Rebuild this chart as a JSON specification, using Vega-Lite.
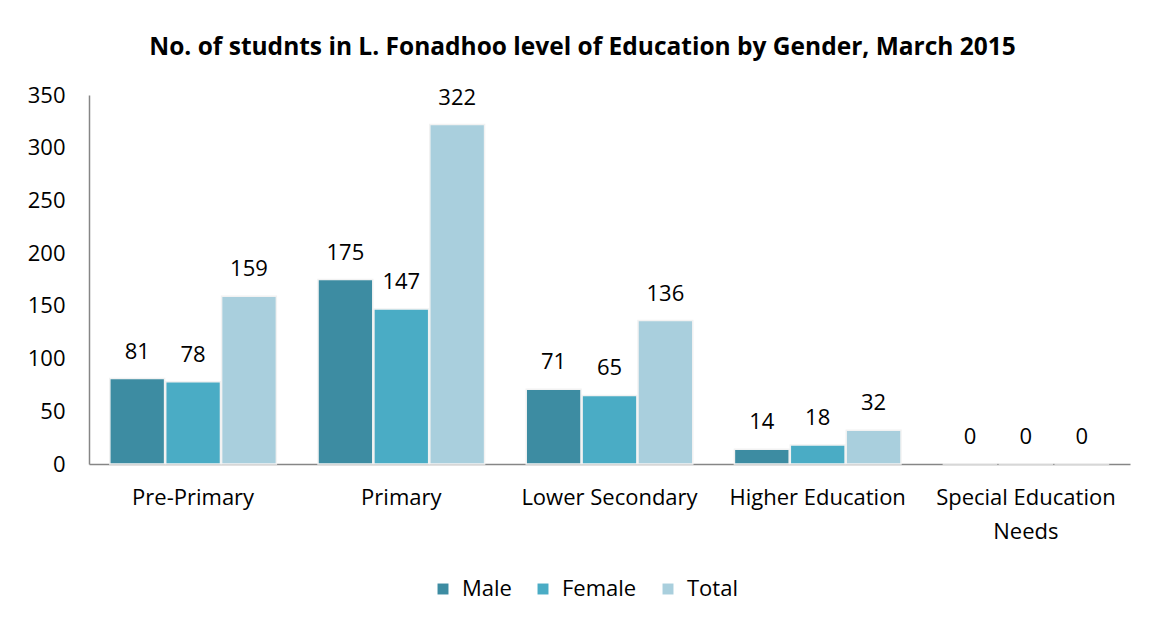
{
  "$schema": "https://vega.github.io/schema/vega-lite/v6.json",
  "width": 1041,
  "height": 369,
  "autosize": {"type": "none"},
  "padding": {"left": 89, "top": 95, "right": 22, "bottom": 161},
  "background": "white",
  "config": {"view": {"stroke": null}, "font": "Open Sans"},
  "title": {
    "text": "No. of studnts in L. Fonadhoo level of Education by Gender, March 2015",
    "fontSize": 24.5,
    "fontWeight": "bold",
    "color": "#000000",
    "anchor": "middle",
    "dx": -27,
    "offset": 24
  },
  "data": {
    "values": [
      {"level": "Pre-Primary", "gender": "Male", "count": 81},
      {"level": "Pre-Primary", "gender": "Female", "count": 78},
      {"level": "Pre-Primary", "gender": "Total", "count": 159},
      {"level": "Primary", "gender": "Male", "count": 175},
      {"level": "Primary", "gender": "Female", "count": 147},
      {"level": "Primary", "gender": "Total", "count": 322},
      {"level": "Lower Secondary", "gender": "Male", "count": 71},
      {"level": "Lower Secondary", "gender": "Female", "count": 65},
      {"level": "Lower Secondary", "gender": "Total", "count": 136},
      {"level": "Higher Education", "gender": "Male", "count": 14},
      {"level": "Higher Education", "gender": "Female", "count": 18},
      {"level": "Higher Education", "gender": "Total", "count": 32},
      {"level": "Special Education Needs", "gender": "Male", "count": 0},
      {"level": "Special Education Needs", "gender": "Female", "count": 0},
      {"level": "Special Education Needs", "gender": "Total", "count": 0}
    ]
  },
  "encoding": {
    "x": {
      "field": "level",
      "type": "nominal",
      "sort": ["Pre-Primary", "Primary", "Lower Secondary", "Higher Education", "Special Education Needs"],
      "scale": {"paddingInner": 0.2, "paddingOuter": 0.1},
      "axis": {
        "title": null,
        "labelAngle": 0,
        "ticks": false,
        "domainColor": "#868686",
        "domainWidth": 1.5,
        "labelFontSize": 22,
        "labelColor": "#000000",
        "labelPadding": 23,
        "labelLineHeight": 34,
        "labelBaseline": "top",
        "labelExpr": "datum.label == 'Special Education Needs' ? ['Special Education', 'Needs'] : datum.label"
      }
    },
    "xOffset": {
      "field": "gender",
      "type": "nominal",
      "sort": ["Male", "Female", "Total"],
      "scale": {"paddingInner": 0.02}
    },
    "y": {
      "field": "count",
      "type": "quantitative",
      "scale": {"domain": [0, 350], "nice": false},
      "axis": {
        "title": null,
        "values": [0, 50, 100, 150, 200, 250, 300, 350],
        "ticks": false,
        "grid": false,
        "domainColor": "#868686",
        "domainWidth": 1.5,
        "labelFontSize": 22,
        "labelColor": "#000000",
        "labelPadding": 24
      }
    }
  },
  "layer": [
    {
      "mark": {"type": "bar", "stroke": "#f2f2f2", "strokeWidth": 1.5},
      "encoding": {
        "color": {
          "field": "gender",
          "type": "nominal",
          "sort": ["Male", "Female", "Total"],
          "scale": {"domain": ["Male", "Female", "Total"], "range": ["#3d8ca2", "#4aacc5", "#a9cfdd"]},
          "legend": {
            "title": null,
            "orient": "none",
            "legendX": 343,
            "legendY": 483,
            "direction": "horizontal",
            "symbolType": "square",
            "symbolSize": 120,
            "symbolStrokeWidth": 0,
            "labelFontSize": 22,
            "labelColor": "#000000",
            "columnPadding": 20,
            "labelOffset": 8
          }
        }
      }
    },
    {
      "mark": {"type": "text", "baseline": "bottom", "dy": -15, "fontSize": 22, "color": "#000000"},
      "encoding": {"text": {"field": "count", "type": "quantitative"}}
    }
  ]
}
